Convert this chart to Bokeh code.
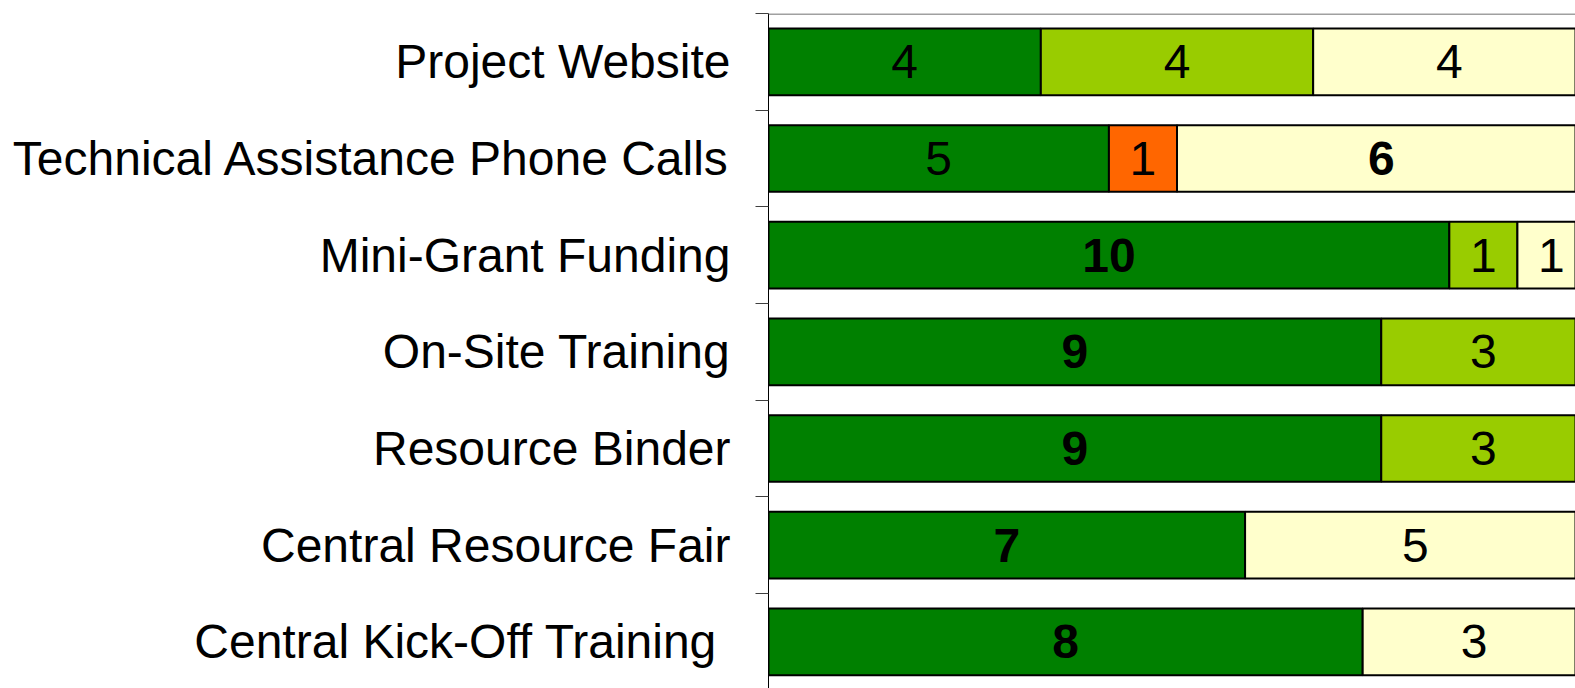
from bokeh.plotting import figure
from bokeh.models import ColumnDataSource, Range1d, FixedTicker, Span
from bokeh.core.properties import value
from bokeh.embed import file_html
from bokeh.resources import INLINE

# ---- data (counts of respondents) ----
categories = ["Project Website", "Technical Assistance Phone Calls", "Mini-Grant Funding",
              "On-Site Training", "Resource Binder", "Central Resource Fair",
              "Central Kick-Off Training "]
series_names = ["Very helpful", "Somewhat helpful", "Not helpful", "Did not use"]
very_helpful = [4, 5, 10, 9, 9, 7, 8]
somewhat_helpful = [4, 0, 1, 3, 3, 0, 0]
not_helpful = [0, 1, 0, 0, 0, 0, 0]
did_not_use = [4, 6, 1, 0, 0, 5, 3]
colors = ["#008000", "#99CC00", "#FF6600", "#FFFFCC"]

series = [very_helpful, somewhat_helpful, not_helpful, did_not_use]
n = len(categories)
ycenters = [n - 1 - i + 0.5 for i in range(n)]

bars = dict(y=[], left=[], right=[], color=[], xc=[], label=[], style=[])
for i in range(n):
    total = sum(s[i] for s in series)
    cum = 0.0
    for s, c in zip(series, colors):
        v = s[i]
        if v == 0:
            continue
        pct = 100.0 * v / total
        bars["y"].append(ycenters[i])
        bars["left"].append(cum)
        bars["right"].append(cum + pct)
        bars["color"].append(c)
        bars["xc"].append(cum + pct / 2)
        bars["label"].append(str(v))
        bars["style"].append("bold" if v / total >= 0.5 else "normal")
        cum += pct
src = ColumnDataSource(bars)

px_per_pct = 8.17
frame_w = 1575 - 768
row_px = 96.67
frame_h = 688 - 13

p = figure(width=1575, height=688, output_backend="svg", toolbar_location=None,
           x_range=Range1d(0, frame_w / px_per_pct),
           y_range=Range1d(n - frame_h / row_px, n),
           x_axis_location=None, min_border_left=768, min_border_top=13,
           min_border_right=0, min_border_bottom=0)
p.grid.visible = False
p.outline_line_color = None
p.background_fill_color = "white"
p.border_fill_color = "white"

# top border line of the plot area
p.add_layout(Span(location=n - 0.005, dimension="width", line_color="#808080",
                  line_width=1.5))

p.hbar(y="y", left="left", right="right", height=0.69, fill_color="color",
       line_color="black", line_width=2, source=src)
p.text(x="xc", y="y", text="label", text_font=value("Liberation Sans"),
       text_font_size="48px", text_font_style="style", text_align="center",
       text_baseline="middle", text_color="black", source=src)

ax = p.yaxis[0]
ax.ticker = FixedTicker(ticks=ycenters, minor_ticks=list(range(0, n + 1)))
ax.major_label_overrides = {yc: categories[i] for i, yc in enumerate(ycenters)}
ax.major_tick_out = 0
ax.major_tick_in = 0
ax.minor_tick_out = 13
ax.minor_tick_in = 0
ax.minor_tick_line_color = "#404040"
ax.axis_line_color = "black"
ax.axis_line_width = 1
ax.major_label_standoff = 25
ax.major_label_text_font = "Liberation Sans"
ax.major_label_text_font_size = "48px"
ax.major_label_text_color = "black"

open("out.html", "w").write(file_html(p, INLINE))
